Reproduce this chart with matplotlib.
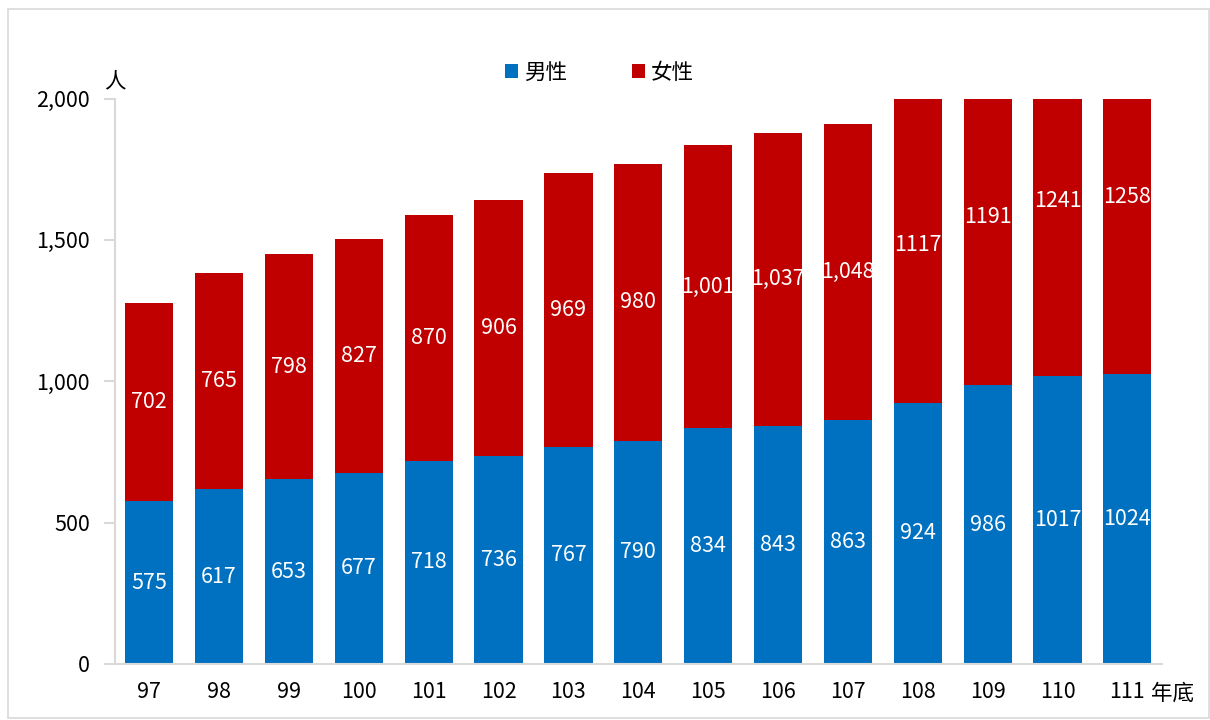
import matplotlib.pyplot as plt
from matplotlib.patches import Rectangle
from matplotlib.ticker import FuncFormatter

plt.rcParams["font.family"] = ["Noto Sans CJK TC", "DejaVu Sans"]

YEARS = ["97", "98", "99", "100", "101", "102", "103", "104", "105", "106", "107", "108", "109", "110", "111"]
MALE = [575, 617, 653, 677, 718, 736, 767, 790, 834, 843, 863, 924, 986, 1017, 1024]
FEMALE = [702, 765, 798, 827, 870, 906, 969, 980, 1001, 1037, 1048, 1117, 1191, 1241, 1258]
MALE_LABELS = ["575", "617", "653", "677", "718", "736", "767", "790", "834", "843", "863", "924", "986", "1017", "1024"]
FEMALE_LABELS = ["702", "765", "798", "827", "870", "906", "969", "980", "1,001", "1,037", "1,048", "1117", "1191", "1241", "1258"]

BLUE = "#0070c0"
RED = "#c00000"
GRID = "#d9d9d9"
FS = 15.5

fig = plt.figure(figsize=(12.1, 7.2), dpi=100)
fig.patches.append(Rectangle((0.007, 0.003), 0.992, 0.985, transform=fig.transFigure,
                             fill=False, edgecolor=GRID, linewidth=1.2))
ax = fig.add_axes([0.095, 0.078, 0.865, 0.785])

x = list(range(len(YEARS)))
ax.bar(x, MALE, width=0.69, color=BLUE, label="男性")
ax.bar(x, FEMALE, width=0.69, bottom=MALE, color=RED, label="女性")

for i in x:
    ax.text(i, MALE[i] / 2, MALE_LABELS[i], ha="center", va="center", color="white", fontsize=FS)
    ax.text(i, MALE[i] + FEMALE[i] / 2, FEMALE_LABELS[i], ha="center", va="center", color="white", fontsize=FS)

ax.set_xlim(-0.49, 14.49)
ax.set_ylim(0, 2000)
ax.set_yticks([0, 500, 1000, 1500, 2000])
ax.yaxis.set_major_formatter(FuncFormatter(lambda v, p: f"{int(v):,}"))
ax.set_xticks(x)
ax.set_xticklabels(YEARS)

for side in ["top", "right"]:
    ax.spines[side].set_visible(False)
for side in ["left", "bottom"]:
    ax.spines[side].set_color(GRID)
    ax.spines[side].set_linewidth(1.5)
ax.tick_params(axis="y", length=8, color=GRID, width=1.5, labelsize=FS, pad=10)
ax.tick_params(axis="x", length=0, labelsize=FS, pad=12)

ax.text(0.0, 1.03, "人", transform=ax.transAxes, ha="center", va="center", fontsize=FS)
ax.text(0.99, -0.053, "年底", transform=ax.transAxes, ha="left", va="center", fontsize=FS)

ax.legend(loc="center", bbox_to_anchor=(0.463, 1.046), ncol=2, frameon=False, fontsize=FS,
          handlelength=0.6, handleheight=0.6, columnspacing=3.0, handletextpad=0.3)

fig.savefig("out.png", dpi=100)
